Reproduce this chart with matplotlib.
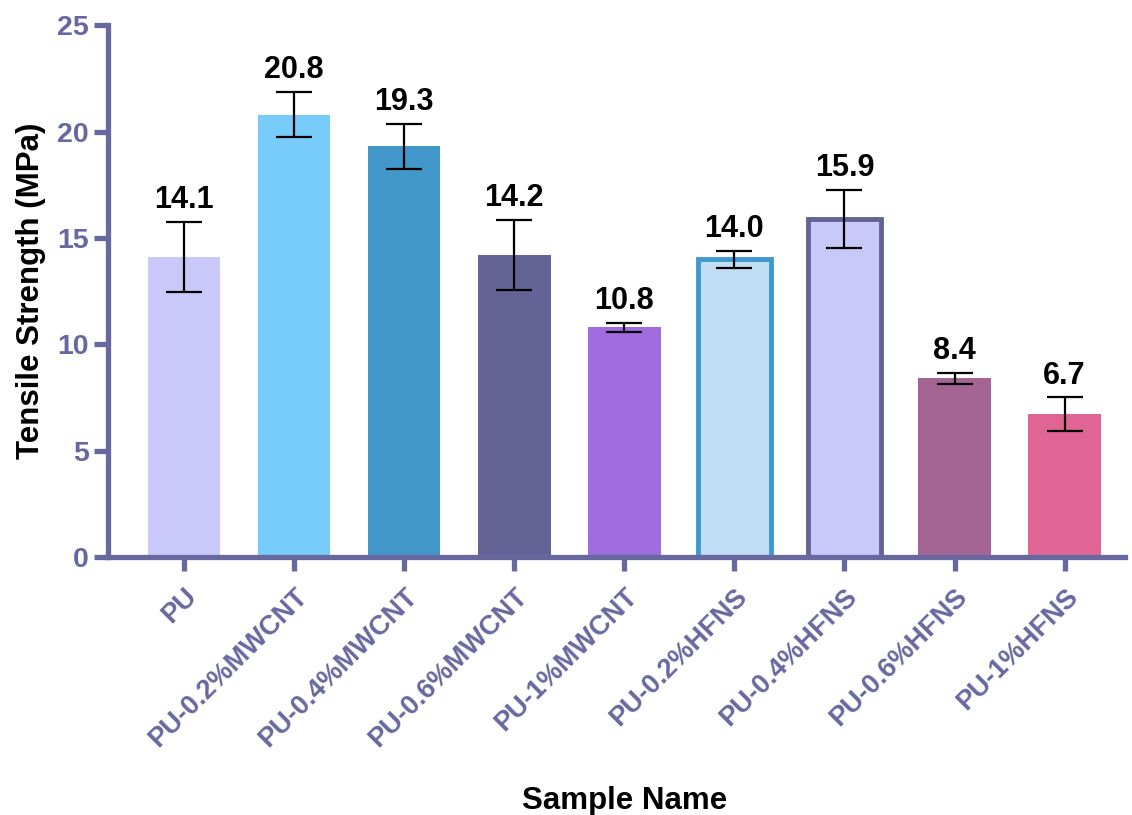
import numpy as np
import matplotlib.pyplot as plt
import matplotlib
matplotlib.rcParams['font.family'] = ['Liberation Sans', 'DejaVu Sans']
matplotlib.rcParams['font.weight'] = 'bold'

samples = ['PU', 'PU-0.2%MWCNT', 'PU-0.4%MWCNT', 'PU-0.6%MWCNT', 'PU-1%MWCNT',
           'PU-0.2%HFNS', 'PU-0.4%HFNS', 'PU-0.6%HFNS', 'PU-1%HFNS']
strength = [14.1, 20.8, 19.3, 14.2, 10.8, 14.0, 15.9, 8.4, 6.7]
err = [1.65, 1.05, 1.05, 1.65, 0.2, 0.4, 1.35, 0.25, 0.8]

face = ['#C9C9F9', '#77CCFA', '#4297CB', '#636396', '#A06CE0',
        '#C1DDF4', '#C9C9F9', '#A46494', '#E06494']
edge = ['#C9C9F9', '#77CCFA', '#4297CB', '#636396', '#A06CE0',
        '#3F98CE', '#636396', '#A46494', '#E06494']
lw = [0, 0, 0, 0, 0, 3.5, 3.5, 0, 0]

axcol = '#6868A0'

fig = plt.figure(figsize=(11.32, 8.15), dpi=100, facecolor='white')
ax = fig.add_axes([0.0954, 0.3166, 0.8986, 0.6524])

x = np.arange(len(samples))
ax.bar(x, strength, width=0.66, color=face, edgecolor=edge, linewidth=lw, zorder=2)
ax.errorbar(x, strength, yerr=err, fmt='none', ecolor='black', elinewidth=1.6,
            capsize=13, capthick=1.6, zorder=3)

# value labels above the error bars
for xi, v, e in zip(x, strength, err):
    ax.annotate('%.1f' % v, (xi, v + e), xytext=(0, 5), textcoords='offset points',
                ha='center', va='bottom', fontsize=22, fontweight='bold', color='black')

ax.set_xlim(-0.69, 8.55)
ax.set_ylim(0, 25)
ax.set_yticks([0, 5, 10, 15, 20, 25])
ax.set_xticks(x)
ax.set_xticklabels(samples, rotation=45, ha='right', rotation_mode='anchor')

for s in ['top', 'right']:
    ax.spines[s].set_visible(False)
for s in ['left', 'bottom']:
    ax.spines[s].set_color(axcol)
    ax.spines[s].set_linewidth(3.8)
ax.tick_params(axis='both', colors=axcol, width=3.8, length=10)
ax.tick_params(axis='y', labelsize=20.5, pad=4)
ax.tick_params(axis='x', labelsize=19.5, pad=9)
for t in ax.get_xticklabels() + ax.get_yticklabels():
    t.set_fontweight('bold')
    t.set_color(axcol)

ax.set_ylabel('Tensile Strength (MPa)', fontsize=22.5, fontweight='bold', color='black')
ax.yaxis.set_label_coords(-0.061, 0.5)
ax.set_xlabel('Sample Name', fontsize=22.5, fontweight='bold', color='black')
ax.xaxis.set_label_coords(0.508, -0.43)

plt.savefig('out.png', dpi=100)
